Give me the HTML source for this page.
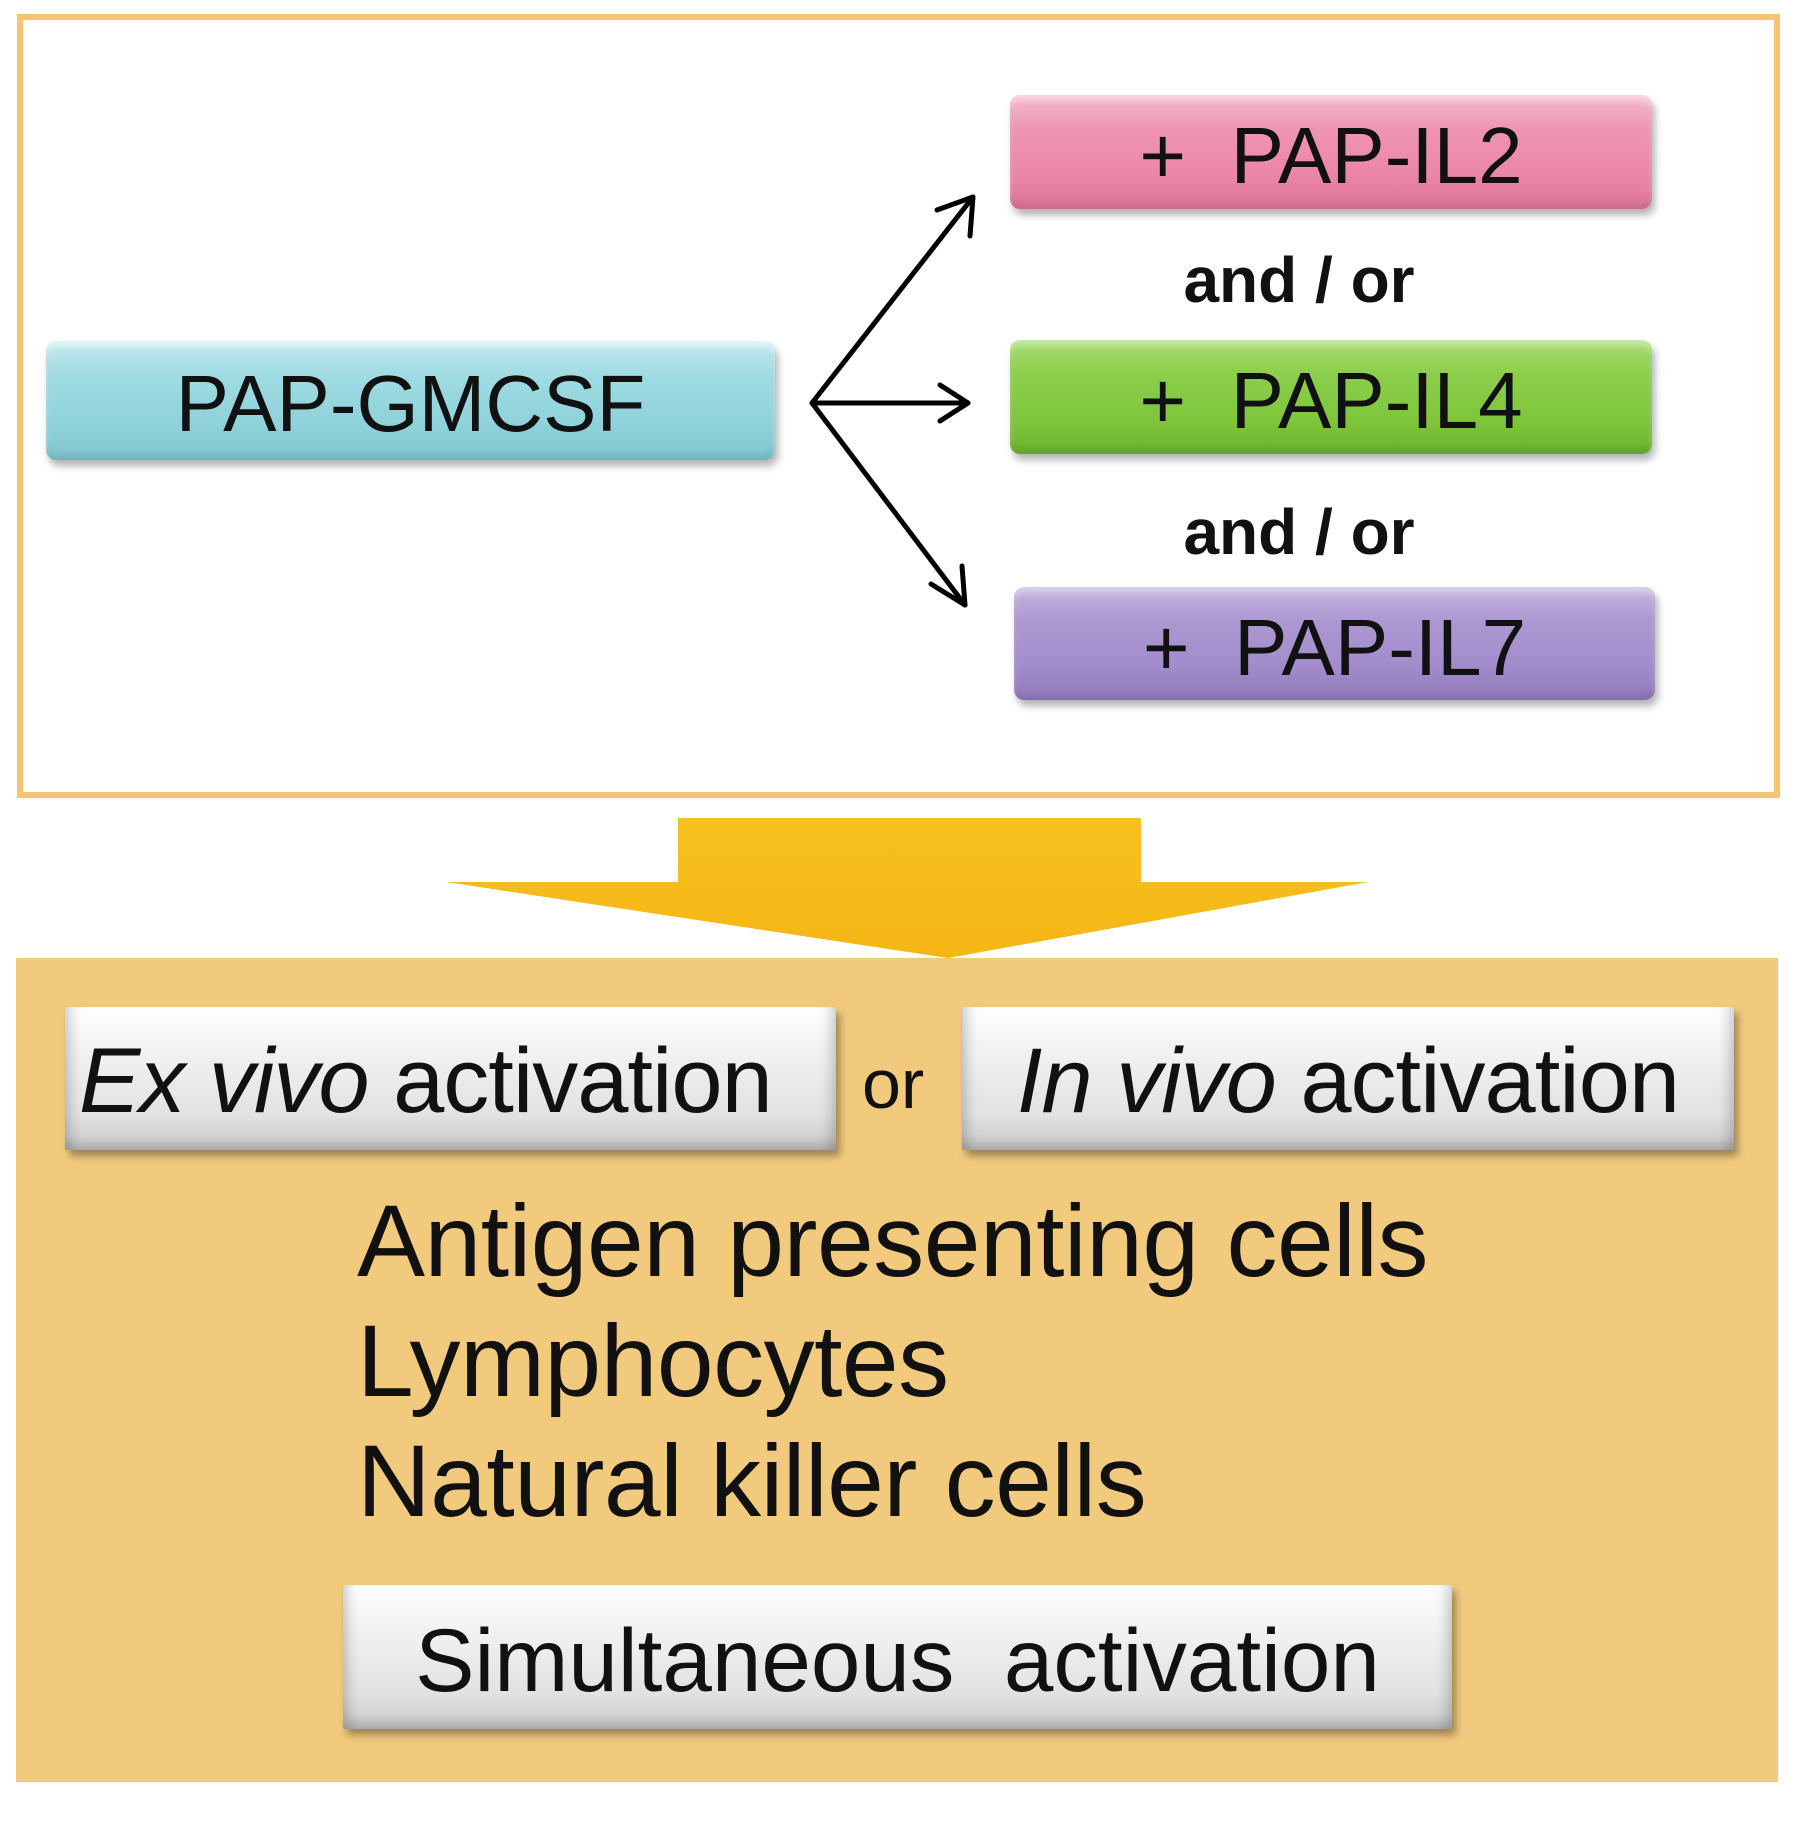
<!DOCTYPE html>
<html><head><meta charset="utf-8"><style>
html,body{margin:0;padding:0}
body{width:1795px;height:1821px;position:relative;background:#fff;font-family:"Liberation Sans",Arial,sans-serif;overflow:hidden}
.abs{position:absolute}
.btn{position:absolute;border-radius:10px;display:flex;align-items:center;justify-content:center;color:#111;box-sizing:border-box}
.cy{background:linear-gradient(#c3e9ee 0%,#9fdbe2 30%,#8fd2da 70%,#7fc3cc 100%);box-shadow:inset 0 6px 6px rgba(255,255,255,.5),inset 0 -6px 6px rgba(0,0,0,.08),3px 6px 8px rgba(0,0,0,.3)}
.pk{background:linear-gradient(#f3b9cd 0%,#ee95b3 30%,#ec86a8 70%,#dc7497 100%);box-shadow:inset 0 6px 6px rgba(255,255,255,.4),inset 0 -6px 6px rgba(0,0,0,.08),3px 6px 8px rgba(0,0,0,.3)}
.gr{background:linear-gradient(#a8dc74 0%,#8cce4c 30%,#7fc63c 70%,#6cb22e 100%);box-shadow:inset 0 6px 6px rgba(255,255,255,.35),inset 0 -6px 6px rgba(0,0,0,.08),3px 6px 8px rgba(0,0,0,.3)}
.pu{background:linear-gradient(#c6b5e0 0%,#ad98d2 30%,#a38ccb 70%,#9079bb 100%);box-shadow:inset 0 6px 6px rgba(255,255,255,.35),inset 0 -6px 6px rgba(0,0,0,.08),3px 6px 8px rgba(0,0,0,.3)}
.gy{border-radius:2px;background:linear-gradient(#ffffff 0%,#f4f4f4 25%,#e2e2e2 75%,#c8c8c8 100%);box-shadow:inset 14px 0 10px -6px rgba(0,0,0,.12),inset -14px 0 10px -6px rgba(0,0,0,.12),inset 0 -8px 8px rgba(0,0,0,.12),4px 6px 8px rgba(0,0,0,.35)}
.t1{font-size:80px;padding-top:6px}
.t2{font-size:80px;padding-top:8px}
.ao{font-size:64px;font-weight:bold;color:#111;position:absolute;width:400px;text-align:center}
.ev{font-size:92px;letter-spacing:-1px;color:#111;padding-top:6px}
.list{position:absolute;left:357px;font-size:102px;color:#111;line-height:1;letter-spacing:-0.5px}
</style></head><body>
<div class="abs" style="left:17px;top:14px;width:1763px;height:784px;border:6px solid #f4c472;box-sizing:border-box"></div>

<div class="btn cy t1" style="left:46px;top:341px;width:729px;height:119px">PAP-GMCSF</div>
<div class="btn pk t2" style="left:1010px;top:95px;width:642px;height:114px">+&nbsp;&nbsp;PAP-IL2</div>
<div class="btn gr t2" style="left:1010px;top:340px;width:642px;height:114px">+&nbsp;&nbsp;PAP-IL4</div>
<div class="btn pu t2" style="left:1014px;top:587px;width:641px;height:113px">+&nbsp;&nbsp;PAP-IL7</div>
<div class="ao" style="left:1099px;top:243px">and / or</div>
<div class="ao" style="left:1099px;top:495px">and / or</div>

<svg class="abs" style="left:0;top:0" width="1795" height="1821">
<g stroke="#000" stroke-width="5" fill="none" stroke-linecap="round" stroke-linejoin="round">
<path d="M973 197 L812 403 L965 605"/>
<path d="M812 403 L968 403"/>
<path d="M937 210 L973 197 L970 236"/>
<path d="M940 385 L968 403 L940 421"/>
<path d="M931 584 L965 605 L962 566"/>
</g>
<defs><linearGradient id="ag" x1="0" y1="0" x2="0" y2="1"><stop offset="0" stop-color="#f6c21e"/><stop offset="1" stop-color="#f5b516"/></linearGradient></defs>
<polygon points="678,818 1141,818 1141,882 1368,882 948,958 446,882 678,882" fill="url(#ag)"/>
</svg>

<div class="abs" style="left:16px;top:958px;width:1762px;height:824px;background:#f2ca7e"></div>

<div class="btn gy ev" style="left:65px;top:1007px;width:771px;height:143px;justify-content:flex-start;padding-left:14px"><span><i>Ex vivo</i> activation</span></div>
<div class="abs" style="left:862px;top:1044px;font-size:70px;color:#111">or</div>
<div class="btn gy ev" style="left:962px;top:1007px;width:772px;height:143px"><span><i>In vivo</i> activation</span></div>

<div class="list" style="top:1190px">Antigen presenting cells</div>
<div class="list" style="top:1310px">Lymphocytes</div>
<div class="list" style="top:1430px">Natural killer cells</div>

<div class="btn gy" style="left:343px;top:1585px;width:1109px;height:144px;font-size:89px;color:#111;padding-top:6px">Simultaneous&nbsp; activation</div>
</body></html>
